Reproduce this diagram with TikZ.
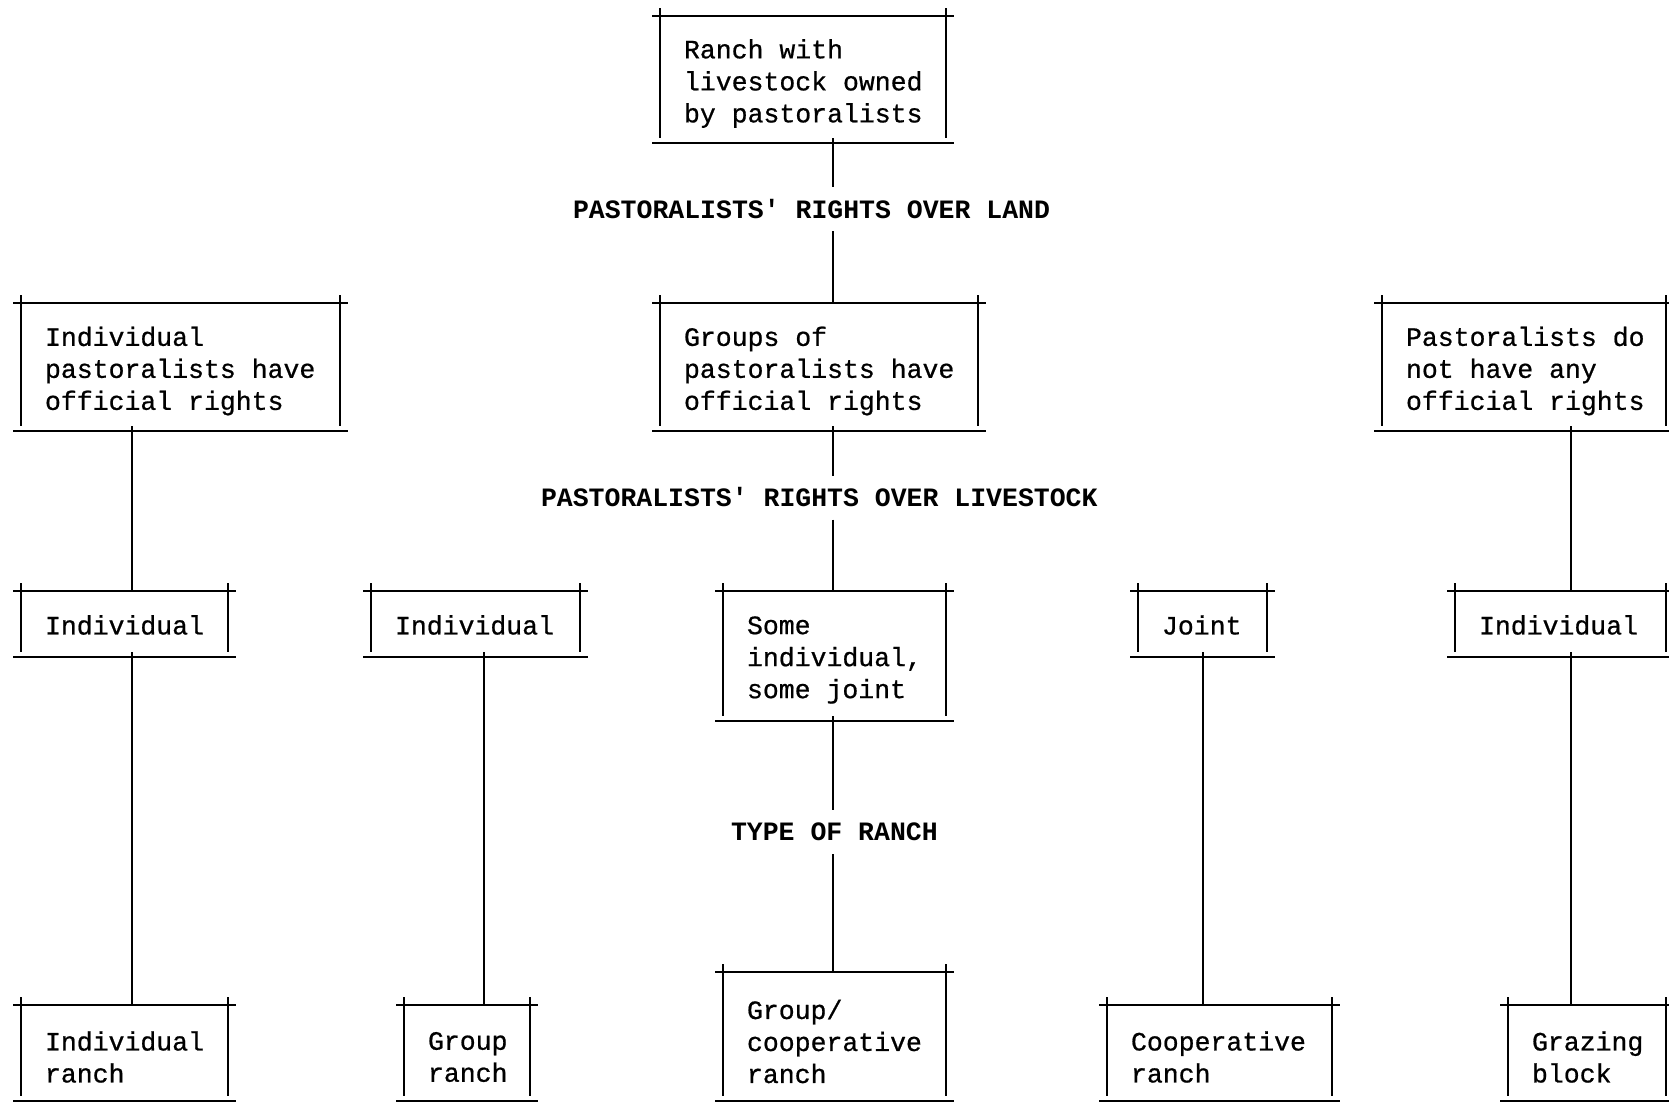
\documentclass[tikz,border=0pt]{standalone}
\usepackage{fontspec}
\setmonofont{Liberation Mono}
\newfontface\heavymono{Liberation Mono}[FakeBold=0.7]
\newcommand\boxfont{\heavymono\fontsize{26.5}{32}\selectfont}
\newcommand\lblfont{\ttfamily\bfseries\fontsize{26.5}{32}\selectfont}
\begin{document}
\begin{tikzpicture}[x=1pt,y=-1pt,line width=2.2pt,
  box/.style={rectangle,inner sep=0pt,outer sep=0pt},
  txt/.style={inner sep=0pt,outer sep=0pt,anchor=west,align=left,font=\boxfont},
  lbl/.style={inner sep=0pt,outer sep=0pt,minimum height=44pt,anchor=west,font=\lblfont}]
\useasboundingbox[fill=white] (0,0) rectangle (1669,1103);
\clip (0,0) rectangle (1669,1103);
% box areas
\node[box,minimum width=286,minimum height=127] (T) at (803,79.5) {};
\node[box,minimum width=319,minimum height=128] (L2) at (180.5,367) {};
\node[box,minimum width=318,minimum height=128] (C2) at (819,367) {};
\node[box,minimum width=284,minimum height=128] (R2) at (1524,367) {};
\node[box,minimum width=207,minimum height=66] (A3) at (124.5,624) {};
\node[box,minimum width=209,minimum height=66] (B3) at (475.5,624) {};
\node[box,minimum width=223,minimum height=130] (C3) at (834.5,656) {};
\node[box,minimum width=129,minimum height=66] (D3) at (1202.5,624) {};
\node[box,minimum width=211,minimum height=66] (E3) at (1560.5,624) {};
\node[box,minimum width=207,minimum height=96] (F4) at (124.5,1053) {};
\node[box,minimum width=126,minimum height=96] (G4) at (467,1053) {};
\node[box,minimum width=223,minimum height=129] (H4) at (834.5,1036.5) {};
\node[box,minimum width=225,minimum height=96] (I4) at (1219.5,1053) {};
\node[box,minimum width=158,minimum height=96] (J4) at (1587,1053) {};
% box texts
\node[txt] (Tt) at ([xshift=24pt,yshift=-4pt]T.west) {Ranch with\\livestock owned\\by pastoralists};
\node[txt] (L2t) at ([xshift=24pt,yshift=-4pt]L2.west) {Individual\\pastoralists have\\official rights};
\node[txt] (C2t) at ([xshift=24pt,yshift=-4pt]C2.west) {Groups of\\pastoralists have\\official rights};
\node[txt] (R2t) at ([xshift=24pt,yshift=-4pt]R2.west) {Pastoralists do\\not have any\\official rights};
\node[txt] (A3t) at ([xshift=24pt,yshift=-1pt]A3.west) {Individual};
\node[txt] (B3t) at ([xshift=24pt,yshift=-1pt]B3.west) {Individual};
\node[txt] (C3t) at ([xshift=24pt,yshift=-4pt]C3.west) {Some\\individual,\\some joint};
\node[txt] (D3t) at ([xshift=24pt,yshift=-1pt]D3.west) {Joint};
\node[txt] (E3t) at ([xshift=24pt,yshift=-1pt]E3.west) {Individual};
\node[txt] (F4t) at ([xshift=24pt,yshift=-4pt]F4.west) {Individual\\ranch};
\node[txt] (G4t) at ([xshift=24pt,yshift=-4pt]G4.west) {Group\\ranch};
\node[txt] (H4t) at ([xshift=24pt,yshift=-5pt]H4.west) {Group/\\cooperative\\ranch};
\node[txt] (I4t) at ([xshift=24pt,yshift=-4pt]I4.west) {Cooperative\\ranch};
\node[txt] (J4t) at ([xshift=24pt,yshift=-4pt]J4.west) {Grazing\\block};
% labels
\node[lbl] (LAND) at (573,209) {PASTORALISTS' RIGHTS OVER LAND};
\node[lbl] (LIVE) at (541,497.5) {PASTORALISTS' RIGHTS OVER LIVESTOCK};
\node[lbl] (TYPE) at (731,832) {TYPE OF RANCH};
% frames
\foreach \b in {T,L2,C2,R2,A3,B3,C3,D3,E3,F4,G4,H4,I4,J4}{
  \draw ([xshift=-8pt]\b.north west) -- ([xshift=8pt]\b.north east)
        ([xshift=-8pt]\b.south west) -- ([xshift=8pt]\b.south east)
        ([yshift=8pt]\b.north west) -- ([yshift=5pt]\b.south west)
        ([yshift=8pt]\b.north east) -- ([yshift=5pt]\b.south east);
}
% connector columns
\coordinate (sp) at (833,0);
\coordinate (ca) at (132,0);
\coordinate (cb) at (484,0);
\coordinate (cd) at (1203,0);
\coordinate (ce) at (1571,0);
% connectors
\draw ([yshift=5pt]T.south -| sp) -- (LAND.north -| sp);
\draw (LAND.south -| sp) -- (C2.north -| sp);
\draw ([yshift=5pt]C2.south -| sp) -- (LIVE.north -| sp);
\draw (LIVE.south -| sp) -- (C3.north -| sp);
\draw ([yshift=5pt]C3.south -| sp) -- (TYPE.north -| sp);
\draw (TYPE.south -| sp) -- (H4.north -| sp);
\draw ([yshift=5pt]L2.south -| ca) -- (A3.north -| ca);
\draw ([yshift=5pt]A3.south -| ca) -- (F4.north -| ca);
\draw ([yshift=5pt]B3.south -| cb) -- (G4.north -| cb);
\draw ([yshift=5pt]D3.south -| cd) -- (I4.north -| cd);
\draw ([yshift=5pt]R2.south -| ce) -- (E3.north -| ce);
\draw ([yshift=5pt]E3.south -| ce) -- (J4.north -| ce);
\end{tikzpicture}
\end{document}
